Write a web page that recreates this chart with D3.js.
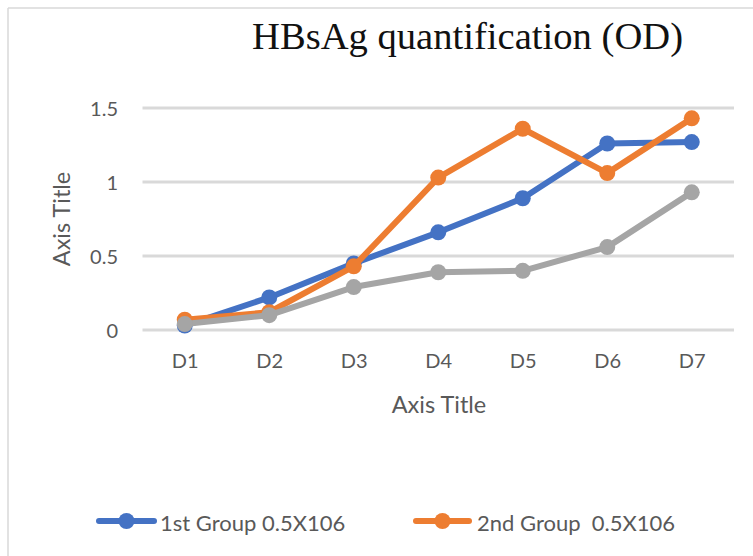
<!DOCTYPE html>
<html>
<head>
<meta charset="utf-8">
<script src="https://cdn.jsdelivr.net/npm/d3@7"></script>
<style>
  html, body { margin: 0; padding: 0; background: #fff; }
  svg { display: block; }
</style>
</head>
<body>
<svg id="chart" width="753" height="556"></svg>
<script>
const categories = ["D1", "D2", "D3", "D4", "D5", "D6", "D7"];
const series1 = [0.03, 0.22, 0.45, 0.66, 0.89, 1.26, 1.27];
const series2 = [0.07, 0.12, 0.43, 1.03, 1.36, 1.06, 1.43];
const series3 = [0.04, 0.10, 0.29, 0.39, 0.40, 0.56, 0.93];
const seriesNames = ["1st Group 0.5X106", "2nd Group  0.5X106", "3rd Group"];
const seriesColors = ["#4472C4", "#ED7D31", "#A5A5A5"];
const yTicks = [0, 0.5, 1, 1.5];
const yTickLabels = ["0", "0.5", "1", "1.5"];
const titleText = "HBsAg quantification (OD)";
const xAxisTitle = "Axis Title";
const yAxisTitle = "Axis Title";

const svg = d3.select("#chart");
const font = "Lato, 'Open Sans', sans-serif";
const textColor = "#595959";

// chart border (partially visible)
svg.append("line").attr("x1", 8).attr("x2", 753).attr("y1", 8).attr("y2", 8)
  .attr("stroke", "#d9d9d9").attr("stroke-width", 1.5);
svg.append("line").attr("x1", 8).attr("x2", 8).attr("y1", 8).attr("y2", 556)
  .attr("stroke", "#d9d9d9").attr("stroke-width", 1.5);

const plotLeft = 142.5, plotRight = 734;
const x = d3.scalePoint().domain(categories).range([plotLeft, plotRight]).padding(0.5);
const y = d3.scaleLinear().domain([0, 1.5]).range([330, 108]);

// gridlines
svg.append("g").selectAll("line").data(yTicks).join("line")
  .attr("x1", plotLeft).attr("x2", plotRight)
  .attr("y1", d => y(d)).attr("y2", d => y(d))
  .attr("stroke", "#d9d9d9").attr("stroke-width", 3);

// y tick labels
const yAxis = d3.axisLeft(y).tickValues(yTicks).tickFormat((d, i) => yTickLabels[i]).tickSize(0).tickPadding(0);
const gy = svg.append("g").attr("transform", "translate(118,0)").call(yAxis);
gy.select(".domain").remove();
gy.selectAll("text").attr("font-family", font).attr("font-size", 20).attr("fill", textColor).attr("dy", "0.35em");

// x tick labels
const xAxis = d3.axisBottom(x).tickSize(0).tickPadding(0);
const gx = svg.append("g").attr("transform", "translate(0,354)").call(xAxis);
gx.select(".domain").remove();
gx.selectAll("text").attr("font-family", font).attr("font-size", 20).attr("fill", textColor).attr("dy", "0.72em");

// axis titles
svg.append("text").attr("x", 439).attr("y", 413).attr("text-anchor", "middle")
  .attr("font-family", font).attr("font-size", 23.5).attr("fill", textColor).text(xAxisTitle);
svg.append("text").attr("transform", "translate(70,219) rotate(-90)").attr("text-anchor", "middle")
  .attr("font-family", font).attr("font-size", 23.5).attr("fill", textColor).text(yAxisTitle);

// title
svg.append("text").attr("x", 252).attr("y", 49)
  .attr("font-family", "'Liberation Serif', 'DejaVu Serif', serif").attr("font-size", 37)
  .attr("fill", "#111").attr("textLength", 431).attr("lengthAdjust", "spacingAndGlyphs")
  .text(titleText);

// lines & markers
const allSeries = [series1, series2, series3];
const line = d3.line().x((d, i) => x(categories[i])).y(d => y(d));
allSeries.forEach((vals, si) => {
  const g = svg.append("g");
  g.append("path").datum(vals).attr("d", line).attr("fill", "none")
    .attr("stroke", seriesColors[si]).attr("stroke-width", 6)
    .attr("stroke-linejoin", "round").attr("stroke-linecap", "round");
  g.selectAll("circle").data(vals).join("circle")
    .attr("cx", (d, i) => x(categories[i])).attr("cy", d => y(d)).attr("r", 8)
    .attr("fill", seriesColors[si]);
});

// legend (only first two entries fit in view)
const legendItems = [
  { idx: 0, x1: 96, x2: 157, tx: 160 },
  { idx: 1, x1: 413, x2: 472, tx: 477 }
];
const lg = svg.append("g");
legendItems.forEach(item => {
  const cy = 521;
  lg.append("line").attr("x1", item.x1 + 3).attr("x2", item.x2 - 3).attr("y1", cy).attr("y2", cy)
    .attr("stroke", seriesColors[item.idx]).attr("stroke-width", 6).attr("stroke-linecap", "round");
  lg.append("circle").attr("cx", (item.x1 + item.x2) / 2).attr("cy", cy).attr("r", 8)
    .attr("fill", seriesColors[item.idx]);
  lg.append("text").attr("x", item.tx).attr("y", 531)
    .attr("font-family", font).attr("font-size", 22).attr("fill", textColor)
    .style("white-space", "pre").attr("xml:space", "preserve")
    .text(seriesNames[item.idx]);
});
</script>
</body>
</html>
